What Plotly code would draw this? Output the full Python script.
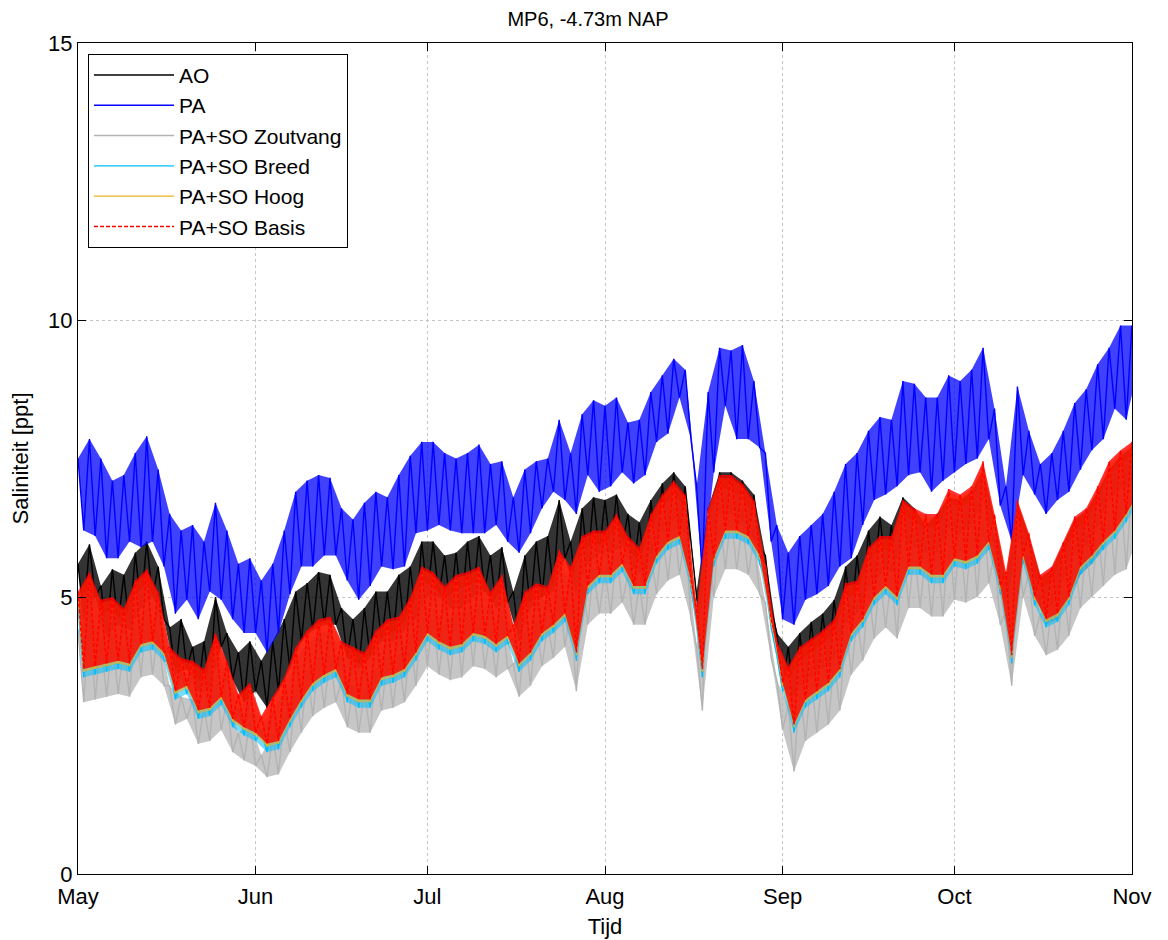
import datetime as dt
import plotly.graph_objects as go

# ---- data (hi = upper envelope at day 2i, lo = lower envelope at day 2i+1) ----
start = dt.datetime(2012, 5, 1)
month_ticks = ["2012-05-01", "2012-06-01", "2012-07-01", "2012-08-01", "2012-09-01", "2012-10-01", "2012-11-01"]
month_labels = ["May", "Jun", "Jul", "Aug", "Sep", "Oct", "Nov"]
y_ticks = [0, 5, 10, 15]

AO_hi = [5.6, 5.95, 5.2, 5.5, 5.4, 5.8, 6.0, 5.55, 4.45, 4.6,
         4.1, 4.2, 5.0, 4.35, 4.0, 4.2, 3.85, 4.2, 4.6, 5.1,
         5.25, 5.45, 5.4, 4.8, 4.6, 4.8, 5.1, 5.1, 5.4, 5.55,
         6.0, 6.0, 5.75, 5.8, 6.0, 6.1, 5.75, 5.9, 5.1, 5.75,
         6.0, 6.1, 6.75, 6.0, 6.6, 6.8, 6.75, 6.85, 6.5, 6.35,
         6.75, 7.05, 7.25, 7.0, 5.1, 6.6, 7.25, 7.25, 7.1, 6.85,
         5.75, 4.35, 4.1, 4.35, 4.55, 4.7, 4.95, 5.55, 5.75, 6.2,
         6.45, 6.3, 6.8, 6.6, 6.3, 6.5, 6.8, 6.75, 6.9, 7.3,
         6.4, 5.3, 6.7, 6.1, 5.35, 5.5, 5.95, 6.4, 6.55, 6.9,
         7.3, 7.55, 7.7]
AO_lo = [4.6, 5.0, 4.3, 4.5, 4.4, 4.8, 5.0, 4.6, 3.6, 3.7,
         3.3, 3.3, 4.1, 3.5, 3.1, 3.3, 3.0, 3.3, 3.7, 4.2,
         4.4, 4.5, 4.5, 3.9, 3.7, 3.9, 4.2, 4.2, 4.4, 4.6,
         5.0, 5.0, 4.8, 4.8, 5.0, 5.1, 4.8, 4.9, 4.2, 4.8,
         5.0, 5.1, 5.7, 5.0, 5.6, 5.8, 5.8, 5.9, 5.5, 5.4,
         5.8, 6.1, 6.3, 6.0, 4.0, 5.7, 6.3, 6.3, 6.2, 5.9,
         4.8, 3.4, 3.1, 3.4, 3.6, 3.8, 4.0, 4.6, 4.8, 5.3,
         5.5, 5.4, 5.8, 5.7, 5.4, 5.5, 5.8, 5.8, 5.9, 6.3,
         5.4, 4.2, 5.7, 5.1, 4.5, 4.6, 5.0, 5.4, 5.6, 5.9,
         6.3, 6.5, 6.8]

PA_hi = [7.5, 7.85, 7.5, 7.1, 7.2, 7.6, 7.9, 7.3, 6.5, 6.2,
         6.3, 6.0, 6.7, 6.2, 5.6, 5.7, 5.3, 5.6, 6.2, 6.9,
         7.1, 7.2, 7.15, 6.6, 6.4, 6.7, 6.9, 6.8, 7.2, 7.55,
         7.8, 7.8, 7.6, 7.5, 7.6, 7.75, 7.4, 7.45, 6.8, 7.3,
         7.45, 7.5, 8.2, 7.6, 8.3, 8.55, 8.45, 8.6, 8.15, 8.2,
         8.7, 9.0, 9.3, 9.1, 7.0, 8.7, 9.5, 9.45, 9.55, 8.9,
         7.6, 6.3, 5.8, 6.1, 6.3, 6.5, 6.9, 7.4, 7.6, 8.0,
         8.25, 8.2, 8.9, 8.85, 8.6, 8.6, 9.0, 8.9, 9.1, 9.5,
         8.4, 7.0, 8.8, 8.0, 7.4, 7.6, 8.0, 8.5, 8.75, 9.2,
         9.5, 9.9, 9.9]
PA_lo = [6.2, 6.1, 5.7, 5.7, 6.0, 5.9, 6.0, 5.55, 4.7, 4.95,
         4.6, 5.1, 4.95, 4.6, 4.35, 4.35, 4.0, 4.35, 5.05, 5.55,
         5.55, 5.75, 5.75, 5.3, 4.95, 5.2, 5.55, 5.5, 5.55, 6.15,
         6.2, 6.3, 6.2, 6.15, 6.15, 6.15, 6.3, 6.0, 5.8, 6.15,
         6.6, 6.9, 6.75, 6.5, 7.2, 6.9, 7.0, 7.25, 7.05, 7.2,
         7.8, 7.95, 8.6, 7.85, 5.4, 7.25, 8.45, 7.85, 7.85, 7.7,
         6.0, 4.6, 4.5, 4.95, 5.05, 5.2, 5.55, 5.7, 6.3, 6.75,
         6.85, 7.0, 7.2, 7.25, 6.9, 7.1, 7.25, 7.4, 7.5, 7.85,
         6.65, 6.0, 7.2, 6.85, 6.5, 6.75, 6.9, 7.3, 7.65, 7.85,
         8.4, 8.2, 9.1]

Zoutvang_hi = [4.4, 4.75, 4.25, 4.3, 4.1, 4.6, 4.8, 4.4, 3.4, 3.2,
               3.15, 3.0, 3.65, 3.15, 2.55, 2.75, 2.15, 2.5, 2.85, 3.4,
               3.7, 3.9, 3.95, 3.5, 3.4, 3.3, 3.7, 3.9, 3.95, 4.3,
               4.85, 4.75, 4.5, 4.7, 4.75, 4.85, 4.4, 4.7, 3.8, 4.4,
               4.55, 4.5, 5.15, 4.85, 5.4, 5.5, 5.5, 5.8, 5.4, 5.2,
               5.8, 6.15, 6.4, 6.15, 4.1, 5.9, 6.5, 6.5, 6.35, 6.05,
               4.9, 3.5, 3.05, 3.4, 3.55, 3.7, 3.9, 4.55, 4.6, 5.2,
               5.4, 5.4, 6.05, 5.9, 5.8, 5.8, 6.25, 6.15, 6.3, 6.75,
               5.8, 4.75, 6.05, 5.45, 4.7, 4.85, 5.3, 5.75, 5.9, 6.3,
               6.75, 6.95, 7.1]
Zoutvang_lo = [3.1, 3.15, 3.2, 3.25, 3.2, 3.55, 3.6, 3.4, 2.7, 2.8,
               2.35, 2.4, 2.6, 2.2, 2.05, 1.95, 1.75, 1.8, 2.2, 2.55,
               2.85, 3.0, 3.1, 2.65, 2.55, 2.55, 2.95, 3.0, 3.1, 3.4,
               3.75, 3.6, 3.5, 3.55, 3.75, 3.7, 3.55, 3.7, 3.2, 3.4,
               3.75, 3.9, 4.1, 3.3, 4.5, 4.7, 4.7, 4.9, 4.5, 4.5,
               5.05, 5.3, 5.4, 4.6, 2.95, 5.0, 5.5, 5.5, 5.4, 5.05,
               3.9, 2.6, 1.85, 2.4, 2.55, 2.7, 2.95, 3.6, 3.85, 4.25,
               4.45, 4.25, 4.8, 4.8, 4.65, 4.65, 4.95, 4.9, 5.0, 5.25,
               4.5, 3.4, 5.0, 4.3, 3.95, 4.05, 4.3, 4.8, 5.0, 5.2,
               5.4, 5.5, 6.1]

Breed_hi = [4.85, 5.2, 4.7, 4.75, 4.55, 5.05, 5.25, 4.85, 3.85, 3.65,
            3.6, 3.45, 4.1, 3.6, 3.0, 3.2, 2.6, 2.95, 3.3, 3.85,
            4.15, 4.35, 4.4, 3.95, 3.85, 3.75, 4.15, 4.35, 4.4, 4.75,
            5.3, 5.2, 4.95, 5.15, 5.2, 5.3, 4.85, 5.15, 4.25, 4.85,
            5.0, 4.95, 5.6, 5.3, 5.85, 5.95, 5.95, 6.25, 5.85, 5.65,
            6.25, 6.6, 6.85, 6.6, 4.55, 6.35, 6.95, 6.95, 6.8, 6.5,
            5.35, 3.95, 3.5, 3.85, 4.0, 4.15, 4.35, 5.0, 5.05, 5.65,
            5.85, 5.85, 6.5, 6.35, 6.25, 6.25, 6.7, 6.6, 6.75, 7.2,
            6.25, 5.2, 6.5, 5.9, 5.15, 5.3, 5.75, 6.2, 6.35, 6.75,
            7.2, 7.4, 7.55]
Breed_lo = [3.55, 3.6, 3.65, 3.7, 3.65, 4.0, 4.05, 3.85, 3.15, 3.25,
            2.8, 2.85, 3.05, 2.65, 2.5, 2.4, 2.2, 2.25, 2.65, 3.0,
            3.3, 3.45, 3.55, 3.1, 3.0, 3.0, 3.4, 3.45, 3.55, 3.85,
            4.2, 4.05, 3.95, 4.0, 4.2, 4.15, 4.0, 4.15, 3.65, 3.85,
            4.2, 4.35, 4.55, 3.85, 5.05, 5.25, 5.25, 5.45, 5.05, 5.05,
            5.6, 5.85, 5.95, 5.15, 3.55, 5.55, 6.05, 6.05, 5.95, 5.6,
            4.45, 3.3, 2.55, 3.0, 3.15, 3.3, 3.55, 4.2, 4.45, 4.85,
            5.05, 4.85, 5.4, 5.4, 5.25, 5.25, 5.55, 5.5, 5.6, 5.85,
            5.05, 3.8, 5.6, 4.85, 4.45, 4.55, 4.85, 5.4, 5.6, 5.85,
            6.05, 6.35, 6.7]

Hoog_hi = [5.05, 5.4, 4.9, 4.95, 4.75, 5.25, 5.45, 5.05, 4.05, 3.85,
           3.8, 3.65, 4.3, 3.8, 3.2, 3.4, 2.8, 3.15, 3.5, 4.05,
           4.35, 4.55, 4.6, 4.15, 4.05, 3.95, 4.35, 4.55, 4.6, 4.95,
           5.5, 5.4, 5.15, 5.35, 5.4, 5.5, 5.05, 5.35, 4.45, 5.05,
           5.2, 5.15, 5.8, 5.5, 6.05, 6.15, 6.15, 6.45, 6.05, 5.85,
           6.45, 6.8, 7.05, 6.8, 4.75, 6.55, 7.15, 7.15, 7.0, 6.7,
           5.55, 4.15, 3.7, 4.05, 4.2, 4.35, 4.55, 5.2, 5.25, 5.85,
           6.05, 6.05, 6.7, 6.55, 6.45, 6.45, 6.9, 6.8, 6.95, 7.4,
           6.45, 5.4, 6.7, 6.1, 5.35, 5.5, 5.95, 6.4, 6.55, 6.95,
           7.4, 7.6, 7.75]
Hoog_lo = [3.65, 3.7, 3.75, 3.8, 3.75, 4.1, 4.15, 3.95, 3.25, 3.35,
           2.9, 2.95, 3.15, 2.75, 2.6, 2.5, 2.3, 2.35, 2.75, 3.1,
           3.4, 3.55, 3.65, 3.2, 3.1, 3.1, 3.5, 3.55, 3.65, 3.95,
           4.3, 4.15, 4.05, 4.1, 4.3, 4.25, 4.1, 4.25, 3.75, 3.95,
           4.3, 4.45, 4.65, 3.95, 5.15, 5.35, 5.35, 5.55, 5.15, 5.15,
           5.7, 5.95, 6.05, 5.25, 3.65, 5.65, 6.15, 6.15, 6.05, 5.7,
           4.55, 3.4, 2.65, 3.1, 3.25, 3.4, 3.65, 4.3, 4.55, 4.95,
           5.15, 4.95, 5.5, 5.5, 5.35, 5.35, 5.65, 5.6, 5.7, 5.95,
           5.15, 3.9, 5.7, 4.95, 4.55, 4.65, 4.95, 5.5, 5.7, 5.95,
           6.15, 6.45, 6.8]

Basis_hi = [5.1, 5.45, 4.95, 5.0, 4.8, 5.3, 5.5, 5.1, 4.1, 3.9,
            3.85, 3.7, 4.35, 3.85, 3.25, 3.45, 2.85, 3.2, 3.55, 4.1,
            4.4, 4.6, 4.65, 4.2, 4.1, 4.0, 4.4, 4.6, 4.65, 5.0,
            5.55, 5.45, 5.2, 5.4, 5.45, 5.55, 5.1, 5.4, 4.5, 5.1,
            5.25, 5.2, 5.85, 5.55, 6.1, 6.2, 6.2, 6.5, 6.1, 5.9,
            6.5, 6.85, 7.1, 6.85, 4.8, 6.6, 7.2, 7.2, 7.05, 6.75,
            5.6, 4.2, 3.75, 4.1, 4.25, 4.4, 4.6, 5.25, 5.3, 5.9,
            6.1, 6.1, 6.75, 6.6, 6.5, 6.5, 6.95, 6.85, 7.0, 7.45,
            6.5, 5.45, 6.75, 6.15, 5.4, 5.55, 6.0, 6.45, 6.6, 7.0,
            7.45, 7.65, 7.8]
Basis_lo = [3.7, 3.75, 3.8, 3.85, 3.8, 4.15, 4.2, 4.0, 3.3, 3.4,
            2.95, 3.0, 3.2, 2.8, 2.65, 2.55, 2.35, 2.4, 2.8, 3.15,
            3.45, 3.6, 3.7, 3.25, 3.15, 3.15, 3.55, 3.6, 3.7, 4.0,
            4.35, 4.2, 4.1, 4.15, 4.35, 4.3, 4.15, 4.3, 3.8, 4.0,
            4.35, 4.5, 4.7, 4.0, 5.2, 5.4, 5.4, 5.6, 5.2, 5.2,
            5.75, 6.0, 6.1, 5.3, 3.7, 5.7, 6.2, 6.2, 6.1, 5.75,
            4.6, 3.45, 2.7, 3.15, 3.3, 3.45, 3.7, 4.35, 4.6, 5.0,
            5.2, 5.0, 5.55, 5.55, 5.4, 5.4, 5.7, 5.65, 5.75, 6.0,
            5.2, 3.95, 5.75, 5.0, 4.6, 4.7, 5.0, 5.55, 5.75, 6.0,
            6.2, 6.5, 6.85]

series = [
    ("AO", AO_hi, AO_lo, "0,0,0", "solid", 0.8),
    ("PA", PA_hi, PA_lo, "0,0,255", "solid", 0.75),
    ("PA+SO Zoutvang", Zoutvang_hi, Zoutvang_lo, "179,179,179", "solid", 0.75),
    ("PA+SO Breed", Breed_hi, Breed_lo, "0,191,255", "solid", 0.55),
    ("PA+SO Hoog", Hoog_hi, Hoog_lo, "237,177,32", "solid", 0.6),
    ("PA+SO Basis", Basis_hi, Basis_lo, "255,0,0", "4px,2px", 0.8),
]


def day(i):
    return start + dt.timedelta(days=i)


fig = go.Figure()
for name, hi, lo, rgb, dash, alpha in series:
    hx = [day(2 * i) for i in range(len(hi))]
    lx = [day(2 * i + 1) for i in range(len(lo))]
    # band between the upper and lower envelope
    fig.add_trace(go.Scatter(x=hx + lx[::-1], y=list(hi) + list(lo)[::-1],
                             mode="lines", fill="toself",
                             fillcolor=f"rgba({rgb},{alpha})",
                             line=dict(width=0), hoverinfo="skip", showlegend=False))
    # oscillating line through the envelope values
    xs, ys = [], []
    for i in range(len(hi)):
        xs += [hx[i], lx[i]]
        ys += [hi[i], lo[i]]
    fig.add_trace(go.Scatter(x=xs, y=ys, mode="lines", name=name,
                             line=dict(color=f"rgb({rgb})", width=1.4, dash=dash)))

font_family = "Liberation Sans, Arial, sans-serif"
fig.update_layout(
    width=1160, height=932,
    margin=dict(l=70, r=36, t=35, b=66, autoexpand=False),
    paper_bgcolor="white", plot_bgcolor="white",
    font=dict(family=font_family, size=22, color="black"),
    title=dict(text="MP6, -4.73m NAP", x=0.5, xanchor="center", y=1.0, yanchor="top",
               pad=dict(t=4, b=0), font=dict(size=20)),
    legend=dict(x=0.0095, y=0.987, xanchor="left", yanchor="top",
                bgcolor="white", bordercolor="black", borderwidth=1,
                font=dict(size=21), tracegroupgap=0, itemwidth=80),
    showlegend=True,
)
fig.update_xaxes(
    range=["2012-05-01", "2012-11-01"],
    tickvals=month_ticks, ticktext=month_labels,
    showline=True, linecolor="black", linewidth=1, mirror="allticks",
    ticks="inside", ticklen=8, tickcolor="black",
    showgrid=True, gridcolor="#c4c4c4", griddash="dot", gridwidth=1,
    zeroline=False, automargin=False, ticklabelstandoff=3,
    title=dict(text="Tijd", font=dict(size=22), standoff=10),
    tickfont=dict(size=22),
)
fig.update_yaxes(
    range=[0, 15], tickvals=y_ticks,
    showline=True, linecolor="black", linewidth=1, mirror="allticks",
    ticks="inside", ticklen=8, tickcolor="black",
    showgrid=True, gridcolor="#c4c4c4", griddash="dot", gridwidth=1,
    zeroline=False, automargin=False,
    title=dict(text="Saliniteit [ppt]", font=dict(size=22), standoff=14),
    tickfont=dict(size=22),
)

fig.write_html("out.html")
